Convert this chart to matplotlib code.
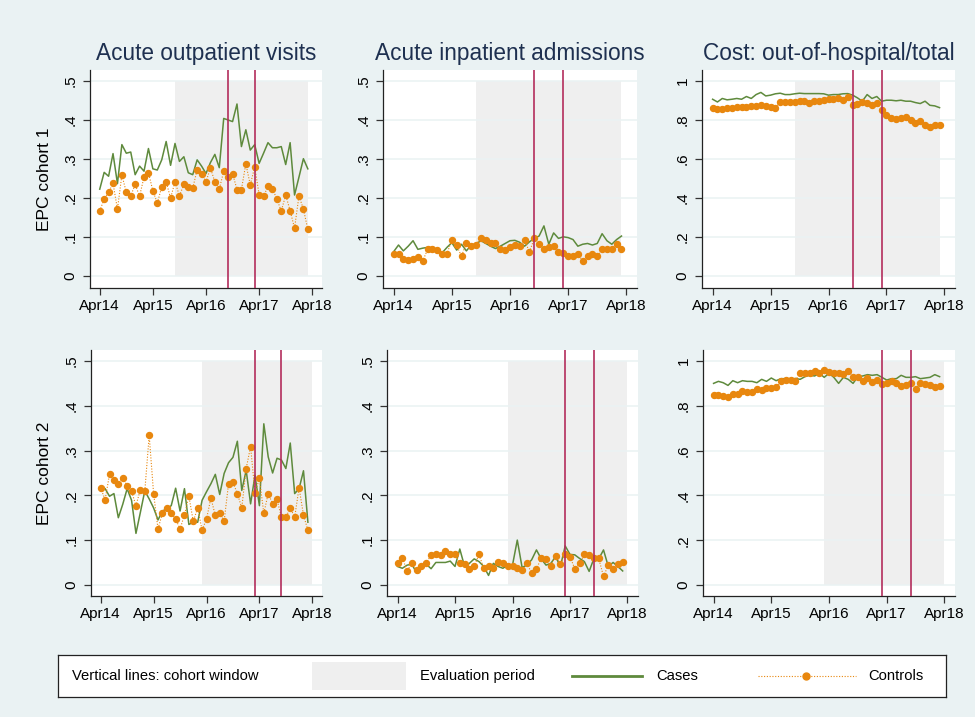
import matplotlib
matplotlib.use('Agg')
import matplotlib.pyplot as plt
from matplotlib.lines import Line2D
from matplotlib.patches import Rectangle
from matplotlib.ticker import FuncFormatter
import numpy as np

plt.rcParams['font.family'] = ['Liberation Sans', 'DejaVu Sans']

# months counted from Apr14
months = np.arange(48)
tick_pos = [0, 12, 24, 36, 48]
tick_labels = ['Apr14', 'Apr15', 'Apr16', 'Apr17', 'Apr18']

titles = ['Acute outpatient visits', 'Acute inpatient admissions',
          'Cost: out-of-hospital/total']
row_labels = ['EPC cohort 1', 'EPC cohort 2']

# cohort window (vertical lines) and evaluation period (shaded)
cohort_window = [(29, 35), (35, 41)]
eval_period = [(17, 47), (23, 48)]

# cohort 1
c1_out_cases = [0.222, 0.265, 0.255, 0.313, 0.236, 0.336, 0.314, 0.317, 0.259, 0.281, 0.268, 0.326,
                0.274, 0.271, 0.297, 0.344, 0.283, 0.339, 0.293, 0.305, 0.264, 0.259, 0.297, 0.281,
                0.262, 0.290, 0.311, 0.277, 0.403, 0.399, 0.395, 0.440, 0.331, 0.374, 0.322, 0.336,
                0.288, 0.314, 0.341, 0.328, 0.328, 0.331, 0.285, 0.341, 0.207, 0.253, 0.300, 0.274]
c1_out_controls = [0.166, 0.197, 0.214, 0.237, 0.171, 0.258, 0.214, 0.205, 0.234, 0.204, 0.253, 0.264,
                   0.218, 0.186, 0.228, 0.241, 0.199, 0.241, 0.205, 0.234, 0.228, 0.224, 0.272, 0.260,
                   0.241, 0.276, 0.241, 0.222, 0.268, 0.253, 0.262, 0.221, 0.221, 0.287, 0.233, 0.279,
                   0.208, 0.204, 0.229, 0.223, 0.197, 0.166, 0.207, 0.167, 0.122, 0.205, 0.171, 0.119]
c1_in_cases = [0.062, 0.079, 0.064, 0.076, 0.090, 0.068, 0.071, 0.073, 0.066, 0.069, 0.059, 0.073,
               0.085, 0.066, 0.081, 0.064, 0.079, 0.082, 0.090, 0.083, 0.076, 0.070, 0.076, 0.083,
               0.090, 0.091, 0.086, 0.076, 0.087, 0.096, 0.102, 0.128, 0.081, 0.110, 0.096, 0.100,
               0.098, 0.093, 0.076, 0.081, 0.083, 0.079, 0.083, 0.108, 0.090, 0.081, 0.093, 0.102]
c1_in_controls = [0.056, 0.056, 0.042, 0.040, 0.044, 0.049, 0.038, 0.068, 0.068, 0.066, 0.057, 0.056,
                  0.093, 0.078, 0.050, 0.085, 0.076, 0.079, 0.098, 0.091, 0.085, 0.085, 0.068, 0.066,
                  0.073, 0.079, 0.076, 0.093, 0.061, 0.096, 0.081, 0.070, 0.073, 0.076, 0.062, 0.059,
                  0.050, 0.050, 0.057, 0.038, 0.050, 0.057, 0.050, 0.068, 0.068, 0.068, 0.081, 0.068]
c1_cost_cases = [0.905, 0.891, 0.909, 0.902, 0.905, 0.909, 0.905, 0.919, 0.909, 0.929, 0.940, 0.922,
                 0.926, 0.933, 0.936, 0.929, 0.929, 0.933, 0.936, 0.934, 0.934, 0.934, 0.934, 0.933,
                 0.926, 0.929, 0.929, 0.933, 0.934, 0.926, 0.912, 0.895, 0.929, 0.909, 0.919, 0.895,
                 0.900, 0.900, 0.897, 0.900, 0.895, 0.895, 0.888, 0.883, 0.895, 0.874, 0.871, 0.862]
c1_cost_controls = [0.862, 0.853, 0.857, 0.859, 0.860, 0.864, 0.866, 0.867, 0.871, 0.871, 0.874, 0.869,
                    0.866, 0.860, 0.893, 0.890, 0.890, 0.891, 0.895, 0.898, 0.888, 0.895, 0.898, 0.902,
                    0.905, 0.905, 0.909, 0.902, 0.916, 0.878, 0.881, 0.891, 0.884, 0.878, 0.884, 0.850,
                    0.822, 0.809, 0.805, 0.810, 0.814, 0.800, 0.784, 0.791, 0.774, 0.762, 0.771, 0.771]

# cohort 2
c2_out_cases = [0.219, 0.215, 0.198, 0.204, 0.150, 0.180, 0.215, 0.189, 0.115, 0.162, 0.210, 0.192,
                0.172, 0.145, 0.165, 0.170, 0.177, 0.216, 0.165, 0.215, 0.135, 0.140, 0.140, 0.189,
                0.208, 0.226, 0.247, 0.202, 0.249, 0.273, 0.285, 0.321, 0.211, 0.256, 0.181, 0.245,
                0.177, 0.360, 0.286, 0.250, 0.283, 0.279, 0.260, 0.317, 0.204, 0.215, 0.255, 0.140]
c2_out_controls = [0.217, 0.190, 0.247, 0.234, 0.226, 0.238, 0.222, 0.209, 0.177, 0.213, 0.209, 0.334,
                   0.204, 0.125, 0.160, 0.172, 0.160, 0.147, 0.125, 0.156, 0.198, 0.142, 0.172, 0.122,
                   0.147, 0.194, 0.155, 0.160, 0.142, 0.226, 0.229, 0.204, 0.172, 0.260, 0.309, 0.205,
                   0.238, 0.160, 0.204, 0.181, 0.191, 0.151, 0.151, 0.172, 0.151, 0.217, 0.156, 0.122]
c2_in_cases = [0.041, 0.037, 0.044, 0.046, 0.026, 0.041, 0.046, 0.036, 0.050, 0.050, 0.050, 0.053,
               0.041, 0.080, 0.041, 0.048, 0.058, 0.052, 0.041, 0.021, 0.048, 0.041, 0.037, 0.044,
               0.044, 0.100, 0.039, 0.044, 0.056, 0.078, 0.058, 0.044, 0.048, 0.063, 0.041, 0.087,
               0.068, 0.067, 0.059, 0.052, 0.030, 0.059, 0.058, 0.078, 0.041, 0.050, 0.041, 0.031]
c2_in_controls = [0.048, 0.061, 0.031, 0.048, 0.033, 0.041, 0.048, 0.067, 0.068, 0.067, 0.076, 0.070,
                  0.070, 0.048, 0.046, 0.036, 0.041, 0.068, 0.037, 0.041, 0.037, 0.052, 0.048, 0.041,
                  0.041, 0.037, 0.033, 0.048, 0.026, 0.036, 0.059, 0.058, 0.043, 0.065, 0.046, 0.070,
                  0.063, 0.036, 0.048, 0.068, 0.067, 0.059, 0.059, 0.019, 0.044, 0.036, 0.046, 0.052]
c2_cost_cases = [0.900, 0.909, 0.903, 0.891, 0.912, 0.903, 0.912, 0.909, 0.909, 0.903, 0.918, 0.909,
                 0.924, 0.912, 0.921, 0.921, 0.918, 0.922, 0.918, 0.930, 0.937, 0.933, 0.945, 0.927,
                 0.945, 0.927, 0.900, 0.927, 0.918, 0.900, 0.930, 0.933, 0.939, 0.936, 0.939, 0.927,
                 0.915, 0.921, 0.921, 0.936, 0.927, 0.927, 0.930, 0.921, 0.924, 0.927, 0.939, 0.930]
c2_cost_controls = [0.848, 0.848, 0.845, 0.837, 0.852, 0.852, 0.867, 0.861, 0.861, 0.873, 0.870, 0.879,
                    0.878, 0.882, 0.909, 0.915, 0.915, 0.912, 0.948, 0.948, 0.948, 0.954, 0.948, 0.960,
                    0.952, 0.948, 0.948, 0.942, 0.957, 0.930, 0.927, 0.912, 0.924, 0.906, 0.915, 0.897,
                    0.903, 0.909, 0.900, 0.888, 0.891, 0.903, 0.873, 0.903, 0.897, 0.891, 0.882, 0.888]

series = [
    [(c1_out_cases, c1_out_controls), (c1_in_cases, c1_in_controls), (c1_cost_cases, c1_cost_controls)],
    [(c2_out_cases, c2_out_controls), (c2_in_cases, c2_in_controls), (c2_cost_cases, c2_cost_controls)],
]

BG = '#EAF2F3'
GREEN = '#5E8A3C'
ORANGE = '#E8870E'
VLINE = '#B32D5C'
SHADE = '#EFEFEF'
NAVY = '#1E3050'

W, H = 975, 717
# axes boxes in pixels: left, top, right, bottom
boxes = [
    [(90, 70, 322, 288), (383, 70, 637, 288), (702, 70, 955, 288)],
    [(91, 350, 322, 596), (387, 350, 638, 596), (703, 350, 955, 596)],
]
ylims = [
    [(-0.031, 0.527), (-0.031, 0.527), (-0.063, 1.055)],
    [(-0.025, 0.525), (-0.025, 0.525), (-0.049, 1.049)],
]


def fmt_y(v, pos):
    if abs(v) < 1e-9:
        return '0'
    if abs(v - 1) < 1e-9:
        return '1'
    return ('%.1f' % v).lstrip('0')


fig = plt.figure(figsize=(W / 100, H / 100), dpi=100, facecolor=BG)

for r in range(2):
    for c in range(3):
        l, t, rr, b = boxes[r][c]
        ax = fig.add_axes([l / W, (H - b) / H, (rr - l) / W, (b - t) / H])
        ax.set_facecolor('white')
        cases, controls = series[r][c]
        top = 1.0 if c == 2 else 0.5
        ystep = 0.2 if c == 2 else 0.1

        s, e = eval_period[r]
        ax.fill_between([s, e], 0, top, color=SHADE, lw=0, zorder=0.2)
        ax.plot(months, cases, color=GREEN, lw=1.1, zorder=2)
        ax.plot(months, controls, color=ORANGE, lw=0.8, ls=(0, (1, 1.5)),
                marker='o', ms=4.3, mec=ORANGE, mfc=ORANGE, zorder=3)
        for x in cohort_window[r]:
            ax.axvline(x, color=VLINE, lw=1.2, zorder=4)

        ax.set_xlim(-2.2, 50.2)
        ax.set_ylim(*ylims[r][c])
        ax.set_xticks(tick_pos)
        ax.set_xticklabels(tick_labels)
        ax.set_yticks(np.arange(0, top + 1e-9, ystep))
        ax.yaxis.set_major_formatter(FuncFormatter(fmt_y))
        ax.set_axisbelow(True)
        ax.grid(axis='y', color=BG, lw=1.1)
        ax.tick_params(axis='x', labelsize=11, length=5, width=0.9, color='#333333', pad=3)
        ax.tick_params(axis='y', labelsize=11, length=5, width=0.9, color='#333333',
                       labelrotation=90, pad=4)
        for lab in ax.get_yticklabels():
            lab.set_va('center')
        for side in ['top', 'right']:
            ax.spines[side].set_visible(False)
        for side in ['left', 'bottom']:
            ax.spines[side].set_color('#222222')
            ax.spines[side].set_linewidth(0.9)

        if r == 0:
            ax.set_title(titles[c], fontsize=16.3, color=NAVY, pad=7)
        if c == 0:
            ax.set_ylabel(row_labels[r], fontsize=12.5)
            ax.yaxis.set_label_coords((52 - l) / (rr - l), 0.5)

# legend box
lax = fig.add_axes([58 / W, (H - 697) / H, 888 / W, 42 / H])
lax.set_xlim(58, 946)
lax.set_ylim(0, 1)
lax.set_xticks([])
lax.set_yticks([])
lax.set_facecolor('white')
for sp in lax.spines.values():
    sp.set_color('#222222')
    sp.set_linewidth(0.9)

lfs = 10.6
lax.text(72, 0.5, 'Vertical lines: cohort window', fontsize=lfs, va='center')
lax.add_patch(Rectangle((312, 0.17), 94, 0.66, color=SHADE, lw=0))
lax.text(420, 0.5, 'Evaluation period', fontsize=lfs, va='center')
lax.add_line(Line2D([572, 642], [0.5, 0.5], color=GREEN, lw=2))
lax.text(656, 0.5, 'Cases', fontsize=lfs, va='center')
lax.add_line(Line2D([758, 856], [0.5, 0.5], color=ORANGE, lw=0.8, ls=(0, (1, 1.5))))
lax.add_line(Line2D([806], [0.5], color=ORANGE, marker='o', ms=5))
lax.text(868, 0.5, 'Controls', fontsize=lfs, va='center')

fig.savefig('out.png', dpi=100, facecolor=BG)
